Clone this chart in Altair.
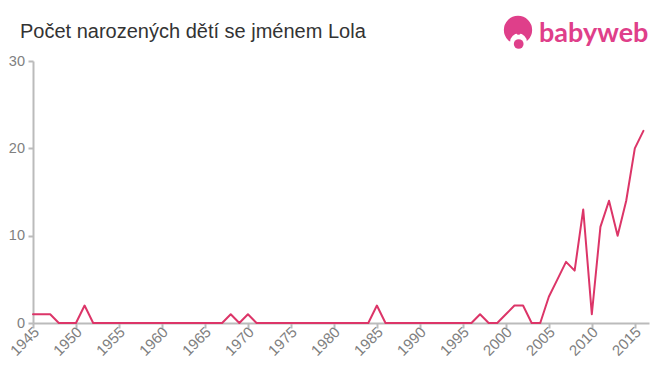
import altair as alt
import pandas as pd

years = list(range(1945, 2017))
counts = ([1, 1, 1, 0, 0, 0, 2, 0]
          + [0] * 15
          + [1, 0, 1]
          + [0] * 14
          + [2]
          + [0] * 11
          + [1, 0, 0, 1, 2, 2, 0, 0, 3, 5, 7, 6, 13, 1, 11, 14, 10, 14, 20, 22])
x_ticks = list(range(1945, 2016, 5))
y_ticks = [0, 10, 20, 30]
title_text = ["Počet narozených dětí se jménem Lola"]
logo_text = ["babyweb"]

df = pd.DataFrame({"year": years, "count": counts})

FONT = "Liberation Sans"

line = alt.Chart(df).mark_line(
    color="#dc3568", strokeWidth=2, strokeJoin="round", strokeCap="round"
).encode(
    x=alt.X("year:Q",
            scale=alt.Scale(domain=[1945, 2016.65], nice=False, zero=False),
            axis=alt.Axis(values=x_ticks, format="d", labelAngle=-45,
                          labelAlign="right", labelBaseline="middle",
                          grid=False, domainColor="#bbbbbb", tickColor="#bbbbbb",
                          tickSize=5, labelColor="#808080", labelFontSize=15,
                          labelFont=FONT, title=None, labelFlush=False,
                          labelOverlap=False, labelPadding=1, labelOffset=3,
                          domainWidth=2, tickWidth=2)),
    y=alt.Y("count:Q",
            scale=alt.Scale(domain=[0, 30], nice=False),
            axis=alt.Axis(values=y_ticks, grid=False, domainColor="#bbbbbb",
                          tickColor="#bbbbbb", tickSize=5, labelColor="#808080",
                          labelFontSize=14.5, labelFont=FONT, title=None,
                          labelFlush=False, labelPadding=3.5, domainWidth=2,
                          tickWidth=2)),
)

title = alt.Chart(pd.DataFrame({"t": title_text})).mark_text(
    align="left", baseline="alphabetic", font=FONT, fontSize=20, color="#333333"
).encode(x=alt.value(-13), y=alt.value(-23.5), text="t:N")

logo = alt.Chart(pd.DataFrame({"t": logo_text})).mark_text(
    align="left", baseline="alphabetic", font="Lato", fontSize=27,
    fontWeight="bold", color="#df3f8a"
).encode(x=alt.value(506), y=alt.value(-19), text="t:N")

icon_df = pd.DataFrame({"k": [1]})
icon_big = alt.Chart(icon_df).mark_circle(color="#df3f8a", opacity=1, size=800).encode(
    x=alt.value(485), y=alt.value(-31))
icon_face = alt.Chart(icon_df).mark_circle(color="white", opacity=1, size=284).encode(
    x=alt.value(485.5), y=alt.value(-19))
icon_tuft = alt.Chart(icon_df).mark_circle(color="#df3f8a", opacity=1, size=14).encode(
    x=alt.value(485.5), y=alt.value(-28))
icon_dot = alt.Chart(icon_df).mark_circle(color="#df3f8a", opacity=1, size=95).encode(
    x=alt.value(485.7), y=alt.value(-17))

chart = alt.layer(line, title, logo, icon_big, icon_face, icon_tuft, icon_dot).properties(
    width=616, height=262,
    autosize=alt.AutoSizeParams(type="none"),
    padding={"left": 25, "top": 53, "right": 2, "bottom": 43},
).configure_view(stroke=None)

chart.save("out.html", embed_options={"renderer": "svg", "actions": False})
